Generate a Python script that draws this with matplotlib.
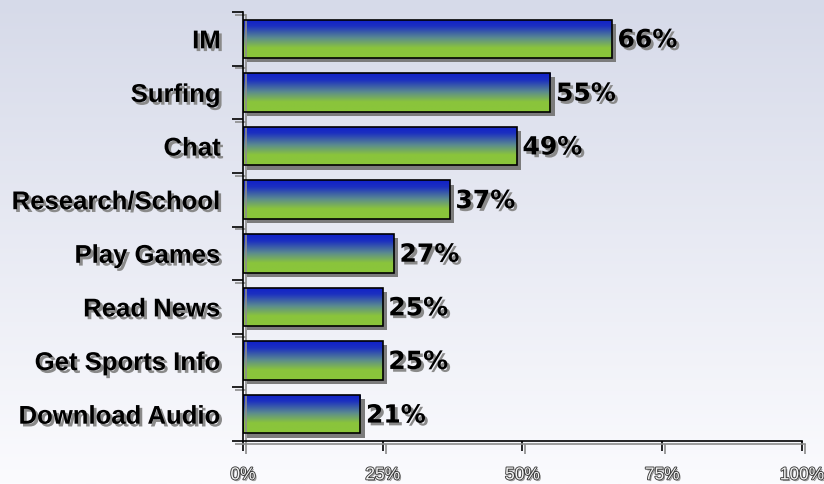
import numpy as np
import matplotlib
matplotlib.use('Agg')
import matplotlib.pyplot as plt
import matplotlib.patheffects as pe
from matplotlib.colors import LinearSegmentedColormap

# activities and share of users
categories = ['IM', 'Surfing', 'Chat', 'Research/School', 'Play Games',
              'Read News', 'Get Sports Info', 'Download Audio']
values = [66, 55, 49, 37, 27, 25, 25, 21]
xticks = [0, 25, 50, 75, 100]
xtick_labels = ['0%', '25%', '50%', '75%', '100%']

W, H = 824, 485
fig = plt.figure(figsize=(W / 100, H / 100), dpi=100)

# soft lavender-to-white backdrop
bg = fig.add_axes([0, 0, 1, 1], zorder=-10)
bg_cmap = LinearSegmentedColormap.from_list('bg', ['#d6dae9', '#fbfbfe'])
bg.imshow(np.linspace(0, 1, 256).reshape(-1, 1), aspect='auto', cmap=bg_cmap,
          extent=[0, 1, 0, 1])
bg.axis('off')

ax = fig.add_axes([243 / W, 1 - 442 / H, (802 - 243) / W, (442 - 13) / H])
ax.patch.set_visible(False)

bar_cmap = LinearSegmentedColormap.from_list(
    'bar', [(0, '#1020c8'), (0.18, '#1c30c0'), (0.48, '#5a8a90'),
            (0.74, '#8ac43c'), (1, '#8ac63a')])
grad = np.linspace(0, 1, 128).reshape(-1, 1)

n = len(categories)
ypos = np.arange(n)[::-1]
h = 0.72

# white base with drop shadow, gradient fill, black outline on top
ax.barh(ypos, values, height=h, color='white', zorder=1,
        path_effects=[pe.SimplePatchShadow(offset=(3, -3), shadow_rgbFace='#7c7c7c', alpha=1),
                      pe.Normal()])
outlines = ax.barh(ypos, values, height=h, facecolor='none', edgecolor='black',
                   linewidth=1.2, zorder=3)
for bar, y, v in zip(outlines, ypos, values):
    im = ax.imshow(grad, aspect='auto', cmap=bar_cmap, zorder=2,
                   extent=[0, v, y - h / 2, y + h / 2], interpolation='bilinear')
    im.set_clip_path(bar)
    ax.annotate(f'{v}%', xy=(v, y), xytext=(4, -1), textcoords='offset points',
                ha='left', va='center', fontsize=18, fontweight='bold',
                family='DejaVu Sans', color='black', zorder=4,
                path_effects=[pe.withSimplePatchShadow(offset=(2, -2),
                                                       shadow_rgbFace='#8a8a8a', alpha=1)])

ax.set_xlim(0, 100)
ax.set_ylim(-0.5, n - 0.5)

for side in ['top', 'right']:
    ax.spines[side].set_visible(False)
line_shadow = [pe.SimpleLineShadow(offset=(2, -2), shadow_color='#8c8c8c', alpha=1),
               pe.Normal()]
for side in ['left', 'bottom']:
    ax.spines[side].set_linewidth(1.2)
    ax.spines[side].set_path_effects(line_shadow)

ax.set_yticks(ypos)
ax.set_yticklabels(categories, fontsize=18.5, fontweight='bold',
                   family=['Liberation Sans', 'DejaVu Sans'])
ax.set_yticks(np.arange(-0.5, n, 1.0), minor=True)
ax.tick_params(axis='y', which='major', length=0, pad=16)
ax.tick_params(axis='y', which='minor', length=8, width=1.2, direction='out')

ax.set_xticks(xticks)
ax.set_xticklabels(xtick_labels, fontsize=12.5, color='#f4f4f4',
                   family=['Liberation Sans', 'DejaVu Sans'])
ax.tick_params(axis='x', length=7, width=1.2, direction='out', pad=12)

for lbl in ax.get_yticklabels():
    lbl.set_path_effects([pe.withSimplePatchShadow(offset=(2, -2),
                                                   shadow_rgbFace='#8a8a8a', alpha=1)])
for lbl in ax.get_xticklabels():
    lbl.set_path_effects([pe.SimplePatchShadow(offset=(1.2, -1.2), shadow_rgbFace='#9a9a9a', alpha=1),
                          pe.Stroke(linewidth=1.3, foreground='#3a3a3a'),
                          pe.Normal()])
for t in ax.yaxis.get_minor_ticks() + ax.xaxis.get_major_ticks():
    t.tick1line.set_path_effects(line_shadow)

fig.savefig('out.png', dpi=100)
